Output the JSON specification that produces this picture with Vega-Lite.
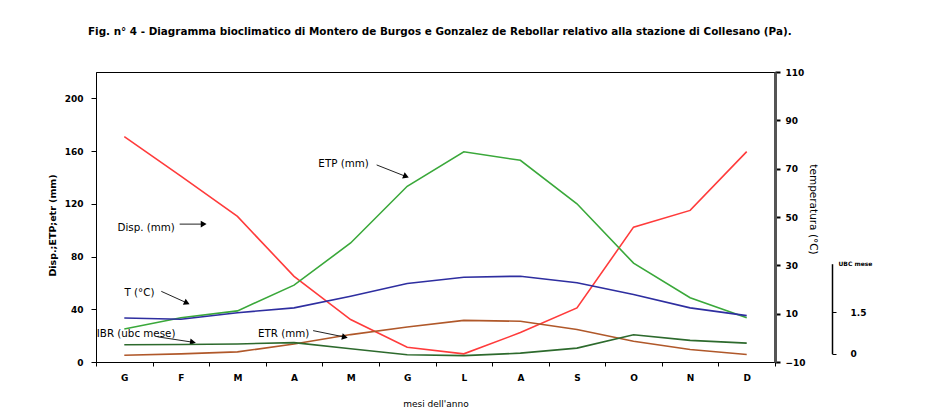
{
  "$schema": "https://vega.github.io/schema/vega-lite/v6.json",
  "width": 679,
  "height": 290,
  "autosize": {"type": "none"},
  "padding": {"left": 96, "top": 72, "right": 156, "bottom": 53},
  "background": "#ffffff",
  "config": {
    "font": "DejaVu Sans",
    "view": {"stroke": "#000000", "strokeWidth": 1},
    "axis": {"labelFont": "DejaVu Sans", "titleFont": "DejaVu Sans", "labelColor": "#000", "titleColor": "#000", "grid": false, "domainColor": "#000", "tickColor": "#000"}
  },
  "title": {
    "text": "Fig. n° 4 - Diagramma bioclimatico di Montero de Burgos e Gonzalez de Rebollar relativo alla stazione di Collesano (Pa).",
    "anchor": "start", "frame": "group", "dx": -8, "offset": 31, "fontSize": 10.4, "fontWeight": "bold", "font": "DejaVu Sans", "color": "#000"
  },
  "datasets": {
    "series": [
      {"i": 0.5, "m": "G", "disp": 171, "etp": 25.1, "etr": 5.1, "t": 8.2, "ibr": 0.32},
      {"i": 1.5, "m": "F", "disp": 141, "etp": 33.6, "etr": 6.2, "t": 7.7, "ibr": 0.33},
      {"i": 2.5, "m": "M", "disp": 110.4, "etp": 38.8, "etr": 7.7, "t": 10.4, "ibr": 0.35},
      {"i": 3.5, "m": "A", "disp": 65, "etp": 58.3, "etr": 13.6, "t": 12.4, "ibr": 0.4},
      {"i": 4.5, "m": "M", "disp": 32.2, "etp": 90.3, "etr": 20.8, "t": 17.2, "ibr": 0.18},
      {"i": 5.5, "m": "G", "disp": 11.2, "etp": 133.3, "etr": 26.5, "t": 22.5, "ibr": -0.04},
      {"i": 6.5, "m": "L", "disp": 6.2, "etp": 159.5, "etr": 31.6, "t": 25.1, "ibr": -0.07},
      {"i": 7.5, "m": "A", "disp": 22.3, "etp": 153, "etr": 30.9, "t": 25.5, "ibr": 0.02},
      {"i": 8.5, "m": "S", "disp": 41, "etp": 120, "etr": 24.6, "t": 22.8, "ibr": 0.2},
      {"i": 9.5, "m": "O", "disp": 102.3, "etp": 75, "etr": 15.7, "t": 17.9, "ibr": 0.68},
      {"i": 10.5, "m": "N", "disp": 115, "etp": 48.8, "etr": 9.5, "t": 12.4, "ibr": 0.48},
      {"i": 11.5, "m": "D", "disp": 159.6, "etp": 33.6, "etr": 5.7, "t": 9.2, "ibr": 0.38}
    ],
    "ann": [
      {"i": 0.38, "v": 101.8, "label": "Disp. (mm)"},
      {"i": 3.93, "v": 150, "label": "ETP (mm)"},
      {"i": 0.504, "v": 52.4, "label": "T (°C)"},
      {"i": 0.014, "v": 21.6, "label": "IBR (ubc mese)"},
      {"i": 2.864, "v": 21.3, "label": "ETR (mm)"}
    ],
    "arr": [
      {"id": "disp", "i": 1.478, "v": 104.6, "i2": 1.903, "v2": 104.6},
      {"id": "etp", "i": 4.96, "v": 149.5, "i2": 5.48, "v2": 140.7},
      {"id": "t", "i": 1.154, "v": 53.6, "i2": 1.607, "v2": 44.8},
      {"id": "ibr", "i": 1.088, "v": 19.1, "i2": 1.713, "v2": 15.0},
      {"id": "etr", "i": 3.837, "v": 23.8, "i2": 4.398, "v2": 18.9}
    ]
  },
  "layer": [
    {
      "layer": [
        {
          "data": {"name": "series"},
          "transform": [{"fold": ["disp", "etp", "etr"], "as": ["k", "v"]}],
          "mark": {"type": "line", "strokeWidth": 1.6},
          "encoding": {
            "x": {"field": "i", "type": "quantitative", "scale": {"domain": [0, 12], "nice": false, "zero": false},
              "axis": {"orient": "bottom", "values": [0, 1, 2, 3, 4, 5, 6, 7, 8, 9, 10, 11, 12], "labels": false, "tickSize": 4, "title": null}},
            "y": {"field": "v", "type": "quantitative", "scale": {"domain": [0, 220], "nice": false}, "title": "Disp.;ETP;etr (mm)",
              "axis": {"orient": "left", "values": [0, 40, 80, 120, 160, 200], "tickSize": 5, "labelFontSize": 9, "labelFontWeight": "bold", "labelPadding": 8, "titleFontSize": 9.5, "titleFontWeight": "bold", "titlePadding": 7, "titleY": 153}},
            "color": {"field": "k", "type": "nominal", "legend": null, "scale": {"domain": ["disp", "etp", "etr"], "range": ["#ff3b3b", "#3aa83a", "#b0582a"]}}
          }
        },
        {
          "data": {"name": "ann"},
          "mark": {"type": "text", "align": "left", "baseline": "middle", "fontSize": 10.3, "font": "DejaVu Sans", "color": "#000"},
          "encoding": {
            "x": {"field": "i", "type": "quantitative"},
            "y": {"field": "v", "type": "quantitative"},
            "text": {"field": "label"}
          }
        },
        {
          "data": {"name": "arr"},
          "mark": {"type": "rule", "color": "#222", "strokeWidth": 1},
          "encoding": {
            "x": {"field": "i", "type": "quantitative"},
            "y": {"field": "v", "type": "quantitative"},
            "x2": {"field": "i2"},
            "y2": {"field": "v2"}
          }
        },
        {"data": {"name": "arr"}, "transform": [{"filter": "datum.id == 'disp'"}], "mark": {"type": "point", "shape": "triangle-right", "filled": true, "color": "#000", "size": 45, "angle": 0, "opacity": 1}, "encoding": {"x": {"field": "i2", "type": "quantitative"}, "y": {"field": "v2", "type": "quantitative"}}},
        {"data": {"name": "arr"}, "transform": [{"filter": "datum.id == 'etp'"}], "mark": {"type": "point", "shape": "triangle-right", "filled": true, "color": "#000", "size": 45, "angle": 22, "opacity": 1}, "encoding": {"x": {"field": "i2", "type": "quantitative"}, "y": {"field": "v2", "type": "quantitative"}}},
        {"data": {"name": "arr"}, "transform": [{"filter": "datum.id == 't'"}], "mark": {"type": "point", "shape": "triangle-right", "filled": true, "color": "#000", "size": 45, "angle": 24, "opacity": 1}, "encoding": {"x": {"field": "i2", "type": "quantitative"}, "y": {"field": "v2", "type": "quantitative"}}},
        {"data": {"name": "arr"}, "transform": [{"filter": "datum.id == 'ibr'"}], "mark": {"type": "point", "shape": "triangle-right", "filled": true, "color": "#000", "size": 45, "angle": 9, "opacity": 1}, "encoding": {"x": {"field": "i2", "type": "quantitative"}, "y": {"field": "v2", "type": "quantitative"}}},
        {"data": {"name": "arr"}, "transform": [{"filter": "datum.id == 'etr'"}], "mark": {"type": "point", "shape": "triangle-right", "filled": true, "color": "#000", "size": 45, "angle": 12, "opacity": 1}, "encoding": {"x": {"field": "i2", "type": "quantitative"}, "y": {"field": "v2", "type": "quantitative"}}}
      ]
    },
    {
      "data": {"name": "series"},
      "mark": {"type": "line", "strokeWidth": 1.6, "color": "#2e2ea0"},
      "encoding": {
        "x": {"field": "i", "type": "quantitative",
          "axis": {"orient": "bottom", "values": [0.5, 1.5, 2.5, 3.5, 4.5, 5.5, 6.5, 7.5, 8.5, 9.5, 10.5, 11.5],
            "labelExpr": "substring('GFMAMGLASOND', floor(datum.value), floor(datum.value) + 1)",
            "ticks": false, "domain": false, "labelOverlap": false, "labelFlush": false, "labelFontSize": 9, "labelFontWeight": "bold", "labelPadding": 11,
            "title": "mesi dell'anno", "titleFontSize": 9, "titleFontWeight": "normal", "titlePadding": 17}},
        "y": {"field": "t", "type": "quantitative", "scale": {"domain": [-10, 110], "nice": false, "zero": false}, "title": "temperatura (°C)",
          "axis": {"orient": "right", "values": [-10, 10, 30, 50, 70, 90, 110], "domainWidth": 3, "domainColor": "#555", "tickSize": 5, "tickWidth": 2, "labelFontSize": 9, "labelFontWeight": "bold", "labelPadding": 5, "titleFontSize": 10.5, "titleFontWeight": "normal", "titleAngle": 90, "titlePadding": 2, "titleY": 137}}
      }
    },
    {
      "layer": [
        {
          "mark": {"type": "rule", "color": "#9a9a9a", "strokeWidth": 3},
          "encoding": {"y": {"datum": 0, "type": "quantitative"}}
        },
        {
          "mark": {"type": "rule", "color": "#000", "strokeWidth": 1.5},
          "encoding": {"x": {"datum": 0.5, "type": "quantitative", "axis": null}, "x2": {"datum": 11.5}, "y": {"datum": 0, "type": "quantitative"}}
        },
        {
          "data": {"name": "series"},
          "mark": {"type": "line", "strokeWidth": 1.6, "color": "#2d6a2d"},
          "encoding": {
            "x": {"field": "i", "type": "quantitative", "axis": null},
            "y": {"field": "ibr", "type": "quantitative", "scale": {"domain": [0, 3.24], "range": [281.7, 191.7], "nice": false, "zero": false}, "title": "UBC mese",
              "axis": {"orient": "right", "offset": 57, "values": [0, 1.5], "format": "~f", "domainWidth": 1.5, "tickSize": 4, "labelFontSize": 9, "labelFontWeight": "bold", "labelPadding": 14,
                "titleFontSize": 6, "titleFontWeight": "bold", "titleAngle": 0, "titleAlign": "left", "titleBaseline": "middle", "titleX": 6, "titleY": 191.7}}
          }
        }
      ]
    }
  ],
  "resolve": {"scale": {"y": "independent"}, "axis": {"x": "independent"}}
}
